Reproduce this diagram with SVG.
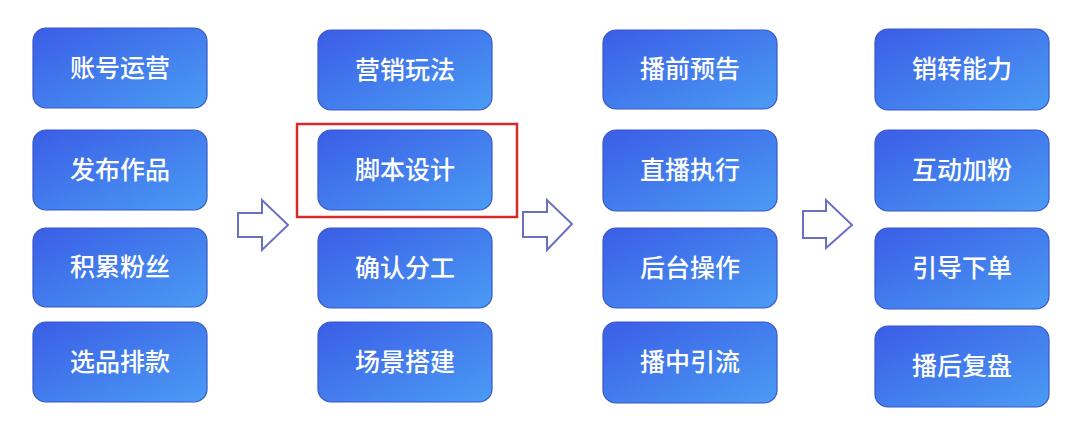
<svg xmlns="http://www.w3.org/2000/svg" width="1080" height="435" viewBox="0 0 1080 435">
<defs>
<linearGradient id="g" x1="0" y1="0" x2="1" y2="1">
<stop offset="0" stop-color="#3b5de6"/>
<stop offset="1" stop-color="#4a9cf4"/>
</linearGradient>
<style>
.box{fill:url(#g);stroke:#3a56c8;stroke-width:1.2}
.t{font-family:"Noto Sans CJK SC","Noto Sans",sans-serif;font-size:25px;font-weight:500;fill:#ffffff;text-anchor:middle}
.arr{fill:#ffffff;stroke:#6a6fc0;stroke-width:2;stroke-linejoin:miter}
.hl{fill:none;stroke:#d52b2b;stroke-width:2.5}
</style>
</defs>
<rect width="1080" height="435" fill="#ffffff"/>
<g id="n1"><rect class="box" x="33" y="28" width="174" height="80" rx="13"/><text class="t" x="120" y="77">账号运营</text></g>
<g id="n2"><rect class="box" x="33" y="130" width="174" height="80" rx="13"/><text class="t" x="120" y="179">发布作品</text></g>
<g id="n3"><rect class="box" x="33" y="228" width="174" height="79" rx="13"/><text class="t" x="120" y="276">积累粉丝</text></g>
<g id="n4"><rect class="box" x="33" y="322" width="174" height="80" rx="13"/><text class="t" x="120" y="371">选品排款</text></g>

<g id="n5"><rect class="box" x="318" y="30" width="174" height="80" rx="13"/><text class="t" x="405" y="79">营销玩法</text></g>
<g id="n6"><rect class="box" x="318" y="130" width="174" height="80" rx="13"/><text class="t" x="405" y="179">脚本设计</text></g>
<g id="n7"><rect class="box" x="318" y="228" width="174" height="80" rx="13"/><text class="t" x="405" y="277">确认分工</text></g>
<g id="n8"><rect class="box" x="318" y="322" width="174" height="80" rx="13"/><text class="t" x="405" y="371">场景搭建</text></g>

<g id="n9"><rect class="box" x="603" y="30" width="174" height="79" rx="13"/><text class="t" x="690" y="78">播前预告</text></g>
<g id="n10"><rect class="box" x="603" y="130" width="174" height="81" rx="13"/><text class="t" x="690" y="179">直播执行</text></g>
<g id="n11"><rect class="box" x="603" y="228" width="174" height="80" rx="13"/><text class="t" x="690" y="277">后台操作</text></g>
<g id="n12"><rect class="box" x="603" y="322" width="174" height="81" rx="13"/><text class="t" x="690" y="371">播中引流</text></g>

<g id="n13"><rect class="box" x="875" y="29" width="174" height="81" rx="13"/><text class="t" x="962" y="78">销转能力</text></g>
<g id="n14"><rect class="box" x="875" y="130" width="174" height="81" rx="13"/><text class="t" x="962" y="179">互动加粉</text></g>
<g id="n15"><rect class="box" x="875" y="228" width="174" height="81" rx="13"/><text class="t" x="962" y="277">引导下单</text></g>
<g id="n16"><rect class="box" x="875" y="326" width="174" height="81" rx="13"/><text class="t" x="962" y="375">播后复盘</text></g>

<rect id="highlight" class="hl" x="297" y="124" width="220" height="93"/>

<g id="connectors">
<polygon class="arr" points="238,213 262,213 262,200 288,225 262,250 262,237 238,237"/>
<polygon class="arr" points="523,212 547,212 547,200 572,224 547,250 547,237 523,237"/>
<polygon class="arr" points="803,211 826,211 826,200 852,225 826,248 826,238 803,238"/>
</g>
</svg>
